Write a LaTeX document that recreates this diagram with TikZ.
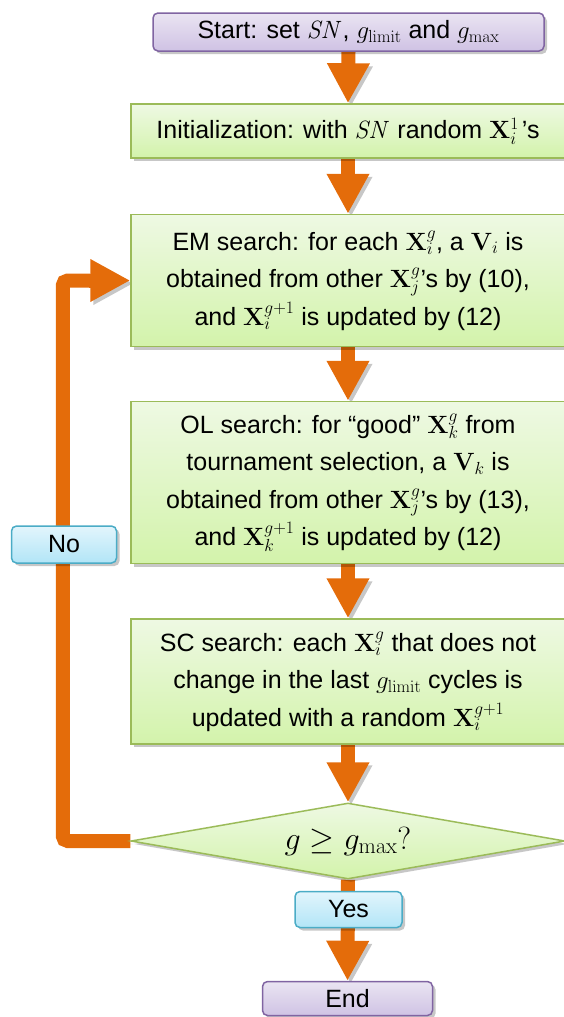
\RequirePackage{fix-cm}
\documentclass[tikz,border=0pt]{standalone}
\usepackage[no-math]{fontspec}
\setmainfont{Liberation Sans}
\usetikzlibrary{arrows.meta,shapes.geometric,shadows}
\definecolor{orng}{HTML}{E46C0A}
\definecolor{grtop}{HTML}{EEF9E3}
\definecolor{grbot}{HTML}{D3F3AB}
\definecolor{grbd}{HTML}{9BBB59}
\definecolor{putop}{HTML}{EAE4F2}
\definecolor{pubot}{HTML}{CFC2E4}
\definecolor{pubd}{HTML}{8064A2}
\definecolor{bltop}{HTML}{E2F5FC}
\definecolor{blbot}{HTML}{B2E5F7}
\definecolor{blbd}{HTML}{4BACC6}
\pgfdeclarelayer{bg}
\pgfsetlayers{bg,main}
\begin{document}
\begin{tikzpicture}[x=1pt,y=-1pt,
  shad/.style={drop shadow={shadow xshift=3pt,shadow yshift=-3pt,fill=black,opacity=0.22}},
  greenbox/.style={draw=grbd,line width=1.5pt,top color=grtop,bottom color=grbot,
    minimum width=434pt,align=center,inner sep=0pt,shad,
    font=\fontsize{25}{37.5}\selectfont},
  purplebox/.style={draw=pubd,line width=1.5pt,top color=putop,bottom color=pubot,
    rounded corners=5pt,align=center,inner sep=0pt,shad,
    font=\fontsize{25}{30}\selectfont},
  bluebox/.style={draw=blbd,line width=1.5pt,top color=bltop,bottom color=blbot,
    rounded corners=5pt,align=center,inner sep=0pt,shad,
    font=\fontsize{25}{30}\selectfont},
  flow/.style={draw=orng,line width=14pt,-{Triangle[length=40pt,width=40pt]},
    preaction={draw=black!22,transform canvas={shift={(3pt,-3pt)}}}},
  noflow/.style={draw=orng,line width=14pt,rounded corners=5pt,
    preaction={draw=black!22,transform canvas={shift={(3pt,-3pt)}}}}
]
\useasboundingbox (0,0) rectangle (564,1017);

\node[purplebox,minimum width=391pt,minimum height=38pt] (start) at (348.5,32)
  {Start: set $\mathit{SN}$, $g_{\mathrm{limit}}$ and $g_{\mathrm{max}}$};
\node[greenbox,minimum height=54pt] (init) at (348,131)
  {Initialization: with $\mathit{SN}$ random $\mathbf{X}_i^{1}$\kern3pt’s};
\node[greenbox,minimum height=132pt] (em) at (348,280.5)
  {EM search: for each $\mathbf{X}_i^g$, a $\mathbf{V}_i$ is\\
   obtained from other $\mathbf{X}_j^g$’s by (10),\\
   and $\mathbf{X}_i^{g+1}$ is updated by (12)};
\node[greenbox,minimum height=162pt] (ol) at (348,482.5)
  {OL search: for “good” $\mathbf{X}_k^g$ from\\
   tournament selection, a $\mathbf{V}_k$ is\\
   obtained from other $\mathbf{X}_j^g$’s by (13),\\
   and $\mathbf{X}_k^{g+1}$ is updated by (12)};
\node[greenbox,minimum height=125pt] (sc) at (348,681.5)
  {SC search: each $\mathbf{X}_i^g$ that does not\\
   change in the last $g_{\mathrm{limit}}$ cycles is\\
   updated with a random $\mathbf{X}_i^{g+1}$};
\node[shape=diamond,aspect=5.7,inner sep=0pt,minimum width=434pt,minimum height=76pt,
  draw=grbd,line width=1.5pt,top color=grtop,bottom color=grbot,shad,
  font=\fontsize{32}{38}\selectfont] (dia) at (348,841)
  {$g \geq g_{\mathrm{max}}?$};
\node[purplebox,minimum width=170pt,minimum height=34pt] (end) at (347.5,998.5) {End};

\begin{pgfonlayer}{bg}
\draw[flow] (start.south) -- (init.north);
\draw[flow] (init.south) -- (em.north);
\draw[flow] (em.south) -- (ol.north);
\draw[flow] (ol.south) -- (sc.north);
\draw[flow] (sc.south) -- (dia.north);
\draw[flow] (dia.south) -- (end.north);
\draw[noflow] (dia.west) -- ++(-67.5,0) coordinate (nocorner) |- ([xshift=-40pt]em.west) coordinate (nohead);
\draw[flow] ([xshift=-41pt]em.west) -- (em.west);
\end{pgfonlayer}

\node[bluebox,minimum width=107pt,minimum height=36pt] (yes) at (348.5,909.5) {Yes};
\node[bluebox,minimum width=105pt,minimum height=37pt] (no) at (64,544.5) {No};
\end{tikzpicture}
\end{document}
